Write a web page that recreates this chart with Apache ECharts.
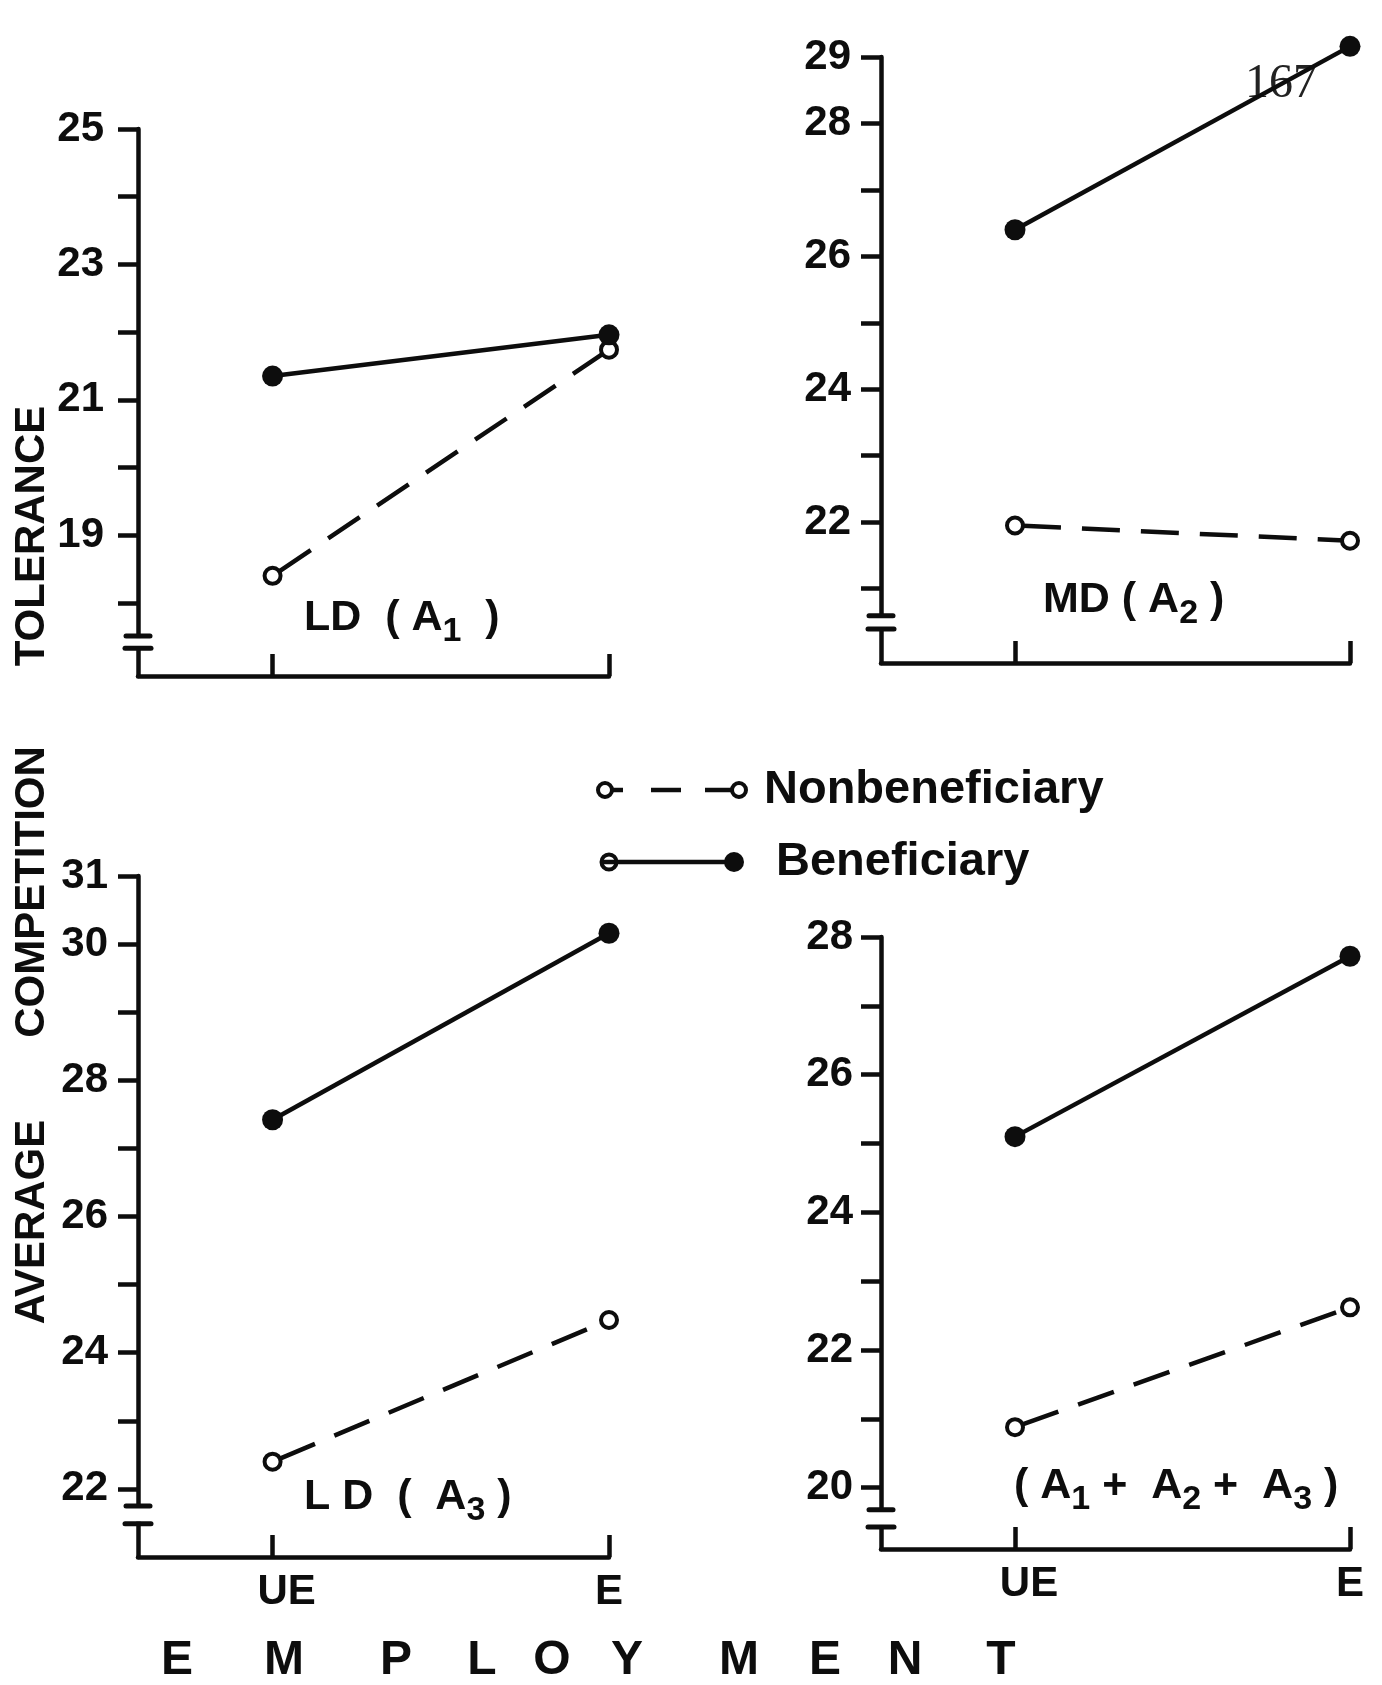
<!DOCTYPE html>
<html>
<head>
<meta charset="utf-8">
<script src="https://cdn.jsdelivr.net/npm/echarts@6/dist/echarts.min.js"></script>
<style>
  html, body { margin: 0; padding: 0; background: #fff; }
  #chart { width: 1382px; height: 1685px; }
</style>
</head>
<body>
<div id="chart"></div>
<script>
// Employment status on the x axis of every panel
const employment = ['UE', 'E'];
const employmentX = [0, 1];

// Average competition tolerance, [UE, E]
const ldA1Nonbeneficiary = [18.4, 21.74];
const ldA1Beneficiary = [21.35, 21.96];
const mdA2Nonbeneficiary = [21.95, 21.72];
const mdA2Beneficiary = [26.4, 29.16];
const ldA3Nonbeneficiary = [22.4, 24.48];
const ldA3Beneficiary = [27.42, 30.16];
const allNonbeneficiary = [20.88, 22.62];
const allBeneficiary = [25.1, 27.72];

// Y axis ticks and labelled values per panel
const ticksA1 = [18, 19, 20, 21, 22, 23, 24, 25];
const labelsA1 = [19, 21, 23, 25];
const ticksA2 = [21, 22, 23, 24, 25, 26, 27, 28, 29];
const labelsA2 = [22, 24, 26, 28, 29];
const ticksA3 = [22, 23, 24, 25, 26, 27, 28, 29, 30, 31];
const labelsA3 = [22, 24, 26, 28, 30, 31];
const ticksAll = [20, 21, 22, 23, 24, 25, 26, 27, 28];
const labelsAll = [20, 22, 24, 26, 28];

// Axis break marks (upper bar, lower bar) on each y axis
const breakA1 = [17.51, 17.33];
const breakA2 = [20.59, 20.39];
const breakA3 = [21.75, 21.49];
const breakAll = [19.68, 19.43];

const seriesNames = ['Nonbeneficiary', 'Beneficiary'];
const axisTitleWords = ['AVERAGE', 'COMPETITION', 'TOLERANCE'];
const footerLetters = ['E', 'M', 'P', 'L', 'O', 'Y', 'M', 'E', 'N', 'T'];

const FONT = 'Liberation Sans';
const INK = '#0d0d0d';
const X_MIN = -0.4;
const STROKE = 4.5;

const panels = [
  { grid: { left: 138, top: 129, width: 471, height: 547 }, min: 16.92, max: 25,
    ticks: ticksA1, labels: labelsA1, brk: breakA1, non: ldA1Nonbeneficiary, ben: ldA1Beneficiary, xLabels: false, labelMargin: 34 },
  { grid: { left: 881, top: 57, width: 469, height: 606 }, min: 19.88, max: 29,
    ticks: ticksA2, labels: labelsA2, brk: breakA2, non: mdA2Nonbeneficiary, ben: mdA2Beneficiary, xLabels: false, labelMargin: 30 },
  { grid: { left: 138, top: 876, width: 471, height: 681 }, min: 21.0, max: 31,
    ticks: ticksA3, labels: labelsA3, brk: breakA3, non: ldA3Nonbeneficiary, ben: ldA3Beneficiary, xLabels: true, labelMargin: 30 },
  { grid: { left: 881, top: 937, width: 469, height: 612 }, min: 19.11, max: 28,
    ticks: ticksAll, labels: labelsAll, brk: breakAll, non: allNonbeneficiary, ben: allBeneficiary, xLabels: true, labelMargin: 28 }
];

const toPoints = vals => employmentX.map((x, i) => [x, vals[i]]);

const grids = panels.map(p => p.grid);

const xAxes = panels.map((p, i) => ({
  type: 'value', gridIndex: i, min: X_MIN, max: 1,
  axisLine: { show: true, onZero: false, lineStyle: { color: INK, width: STROKE } },
  axisTick: { show: true, inside: true, length: 22, customValues: employmentX,
              lineStyle: { color: INK, width: STROKE } },
  axisLabel: {
    show: p.xLabels, customValues: employmentX, margin: 14,
    color: INK, fontFamily: FONT, fontWeight: 'bold', fontSize: 42,
    formatter: v => {
      const name = employment[employmentX.indexOf(v)];
      return name === 'UE' ? '{ue|' + name + '}' : name;
    },
    rich: { ue: { color: INK, fontFamily: FONT, fontWeight: 'bold', fontSize: 42, padding: [0, 0, 0, 28] } }
  },
  splitLine: { show: false }
}));

const yAxes = panels.map((p, i) => ({
  type: 'value', gridIndex: i, min: p.min, max: p.max,
  axisLine: { show: true, onZero: false, lineStyle: { color: INK, width: STROKE } },
  axisTick: { show: true, length: 20, customValues: p.ticks, lineStyle: { color: INK, width: STROKE } },
  axisLabel: { show: true, customValues: p.labels, margin: p.labelMargin,
               color: INK, fontFamily: FONT, fontWeight: 'bold', fontSize: 42 },
  splitLine: { show: false }
}));

const series = [];
panels.forEach((p, i) => {
  series.push({
    name: seriesNames[0], type: 'line', xAxisIndex: i, yAxisIndex: i,
    data: toPoints(p.non), clip: false, z: 3,
    symbol: 'circle', symbolSize: 16,
    itemStyle: { color: '#fff', borderColor: INK, borderWidth: 4 },
    lineStyle: { color: INK, width: STROKE, type: [38, 21], dashOffset: -8 }
  });
  series.push({
    name: seriesNames[1], type: 'line', xAxisIndex: i, yAxisIndex: i,
    data: toPoints(p.ben), clip: false, z: 4,
    symbol: 'circle', symbolSize: 21,
    itemStyle: { color: INK },
    lineStyle: { color: INK, width: STROKE }
  });
  // Axis break: white gap in the y axis line with a bar on each side
  series.push({
    type: 'custom', xAxisIndex: i, yAxisIndex: i, silent: true, clip: false, z: 5,
    data: [[X_MIN, p.brk[0], p.brk[1]]],
    renderItem: (params, api) => {
      const a = api.coord([api.value(0), api.value(1)]);
      const b = api.coord([api.value(0), api.value(2)]);
      return {
        type: 'group',
        children: [
          { type: 'rect', shape: { x: a[0] - 6, y: a[1] + 2, width: 12, height: b[1] - a[1] - 4 },
            style: { fill: '#fff' } },
          { type: 'line', shape: { x1: a[0] - 12, y1: a[1], x2: a[0] + 12, y2: a[1] },
            style: { stroke: INK, lineWidth: 5, lineCap: 'round' } },
          { type: 'line', shape: { x1: b[0] - 13, y1: b[1], x2: b[0] + 13, y2: b[1] },
            style: { stroke: INK, lineWidth: 5, lineCap: 'round' } }
        ]
      };
    }
  });
});

const textStyle = (text, size, extra) => Object.assign({
  text: text, fill: INK, font: 'bold ' + size + 'px "' + FONT + '"',
  fontFamily: FONT, fontWeight: 'bold', fontSize: size,
  textVerticalAlign: 'middle', verticalAlign: 'middle'
}, extra || {});

const subRich = { s: { fill: INK, fontFamily: FONT, fontWeight: 'bold', fontSize: 34, padding: [28, 0, 0, 0] } };

const graphic = [];

// Panel captions
graphic.push({ type: 'text', x: 304, y: 618, style: textStyle('LD  ( A{s|1}  )', 43, { rich: subRich }) });
graphic.push({ type: 'text', x: 1043, y: 600, style: textStyle('MD ( A{s|2} )', 43, { rich: subRich }) });
graphic.push({ type: 'text', x: 304, y: 1497, style: textStyle('L D  (  A{s|3} )', 43, { rich: subRich }) });
graphic.push({ type: 'text', x: 1014, y: 1486, style: textStyle('( A{s|1} +  A{s|2} +  A{s|3} )', 43, { rich: subRich }) });

// Legend
const legendY = [790, 862];
graphic.push({ type: 'line', shape: { x1: 610, y1: legendY[0], x2: 623, y2: legendY[0] }, style: { stroke: INK, lineWidth: STROKE } });
graphic.push({ type: 'line', shape: { x1: 651, y1: legendY[0], x2: 681, y2: legendY[0] }, style: { stroke: INK, lineWidth: STROKE } });
graphic.push({ type: 'line', shape: { x1: 705, y1: legendY[0], x2: 733, y2: legendY[0] }, style: { stroke: INK, lineWidth: STROKE } });
graphic.push({ type: 'circle', shape: { cx: 605, cy: legendY[0], r: 7 }, style: { fill: '#fff', stroke: INK, lineWidth: 4 } });
graphic.push({ type: 'circle', shape: { cx: 739, cy: legendY[0], r: 7 }, style: { fill: '#fff', stroke: INK, lineWidth: 4 } });
graphic.push({ type: 'text', x: 764, y: legendY[0], style: textStyle(seriesNames[0], 47) });

graphic.push({ type: 'circle', shape: { cx: 609, cy: legendY[1], r: 7.5 }, style: { fill: '#fff', stroke: INK, lineWidth: 4 } });
graphic.push({ type: 'line', shape: { x1: 603, y1: legendY[1], x2: 734, y2: legendY[1] }, style: { stroke: INK, lineWidth: STROKE } });
graphic.push({ type: 'circle', shape: { cx: 734, cy: legendY[1], r: 10 }, style: { fill: INK } });
graphic.push({ type: 'text', x: 776, y: legendY[1], style: textStyle(seriesNames[1], 47) });

// Vertical axis title, read bottom to top
const titleCenters = [1222, 892, 536];
axisTitleWords.forEach((w, i) => {
  graphic.push({ type: 'text', x: 32, y: titleCenters[i], rotation: Math.PI / 2,
    style: textStyle(w, 42, { textAlign: 'center', align: 'center' }) });
});

// Spaced-out footer title
const footerX = [177, 284, 396, 482, 552, 627, 739, 825, 905, 1001];
footerLetters.forEach((c, i) => {
  graphic.push({ type: 'text', x: footerX[i], y: 1661,
    style: textStyle(c, 48, { textAlign: 'center', align: 'center' }) });
});

// Page number
graphic.push({ type: 'text', x: 1281, y: 84,
  style: { text: '167', fill: '#222', fontFamily: 'Liberation Serif', fontSize: 48,
           font: '48px "Liberation Serif"', textAlign: 'center', align: 'center',
           textVerticalAlign: 'middle', verticalAlign: 'middle' } });

const chart = echarts.init(document.getElementById('chart'), null, { renderer: 'canvas' });
chart.setOption({
  backgroundColor: '#fff',
  animation: false,
  grid: grids,
  xAxis: xAxes,
  yAxis: yAxes,
  series: series,
  graphic: graphic
});
</script>
</body>
</html>
